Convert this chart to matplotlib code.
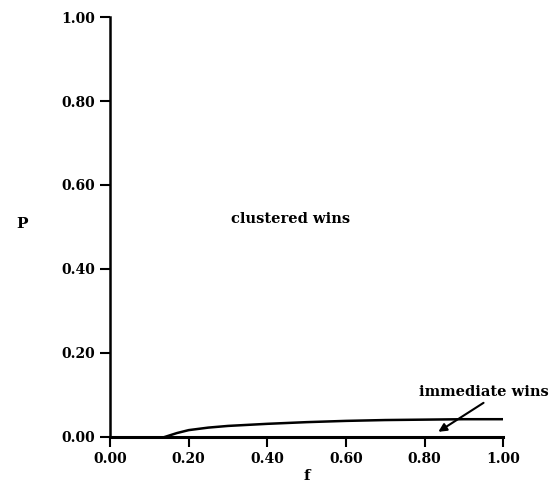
import matplotlib.pyplot as plt
import numpy as np

# boundary between "clustered wins" and "immediate wins"
f_boundary = [0.14, 0.17, 0.20, 0.25, 0.30, 0.40, 0.50, 0.60, 0.70, 0.80, 0.90, 1.00]
p_boundary = [0.000, 0.009, 0.016, 0.022, 0.026, 0.031, 0.035, 0.038, 0.040, 0.041, 0.042, 0.042]

ticks = [0.0, 0.2, 0.4, 0.6, 0.8, 1.0]
tick_labels = ["0.00", "0.20", "0.40", "0.60", "0.80", "1.00"]

plt.rcParams['font.family'] = ['DejaVu Serif']
plt.rcParams['font.weight'] = 'bold'

fig = plt.figure(figsize=(5.56, 4.87), dpi=100)
ax = fig.add_axes([0.198, 0.103, 0.707, 0.862])

ax.plot(f_boundary, p_boundary, color="black", lw=1.8)
ax.plot([0, 1], [0, 0], color="black", lw=2.2, clip_on=False)

ax.set_xlim(0, 1)
ax.set_ylim(0, 1)
ax.spines['top'].set_visible(False)
ax.spines['right'].set_visible(False)
ax.spines['left'].set_linewidth(1.8)
ax.spines['bottom'].set_linewidth(1.8)

ax.set_xticks(ticks)
ax.set_xticklabels(tick_labels, fontsize=10, fontweight='bold')
ax.set_yticks(ticks)
ax.set_yticklabels(tick_labels, fontsize=10, fontweight='bold')
ax.tick_params(axis='both', direction='out', length=7, width=1.5, pad=4)

ax.set_xlabel("f", fontsize=11, fontweight='bold', labelpad=2)
ax.set_ylabel("P", fontsize=11, fontweight='bold', rotation=0)
ax.yaxis.set_label_coords(-0.225, 0.49)

ax.text(0.458, 0.52, "clustered wins", fontsize=10.5, fontweight='bold',
        ha='center', va='center')
ax.text(0.95, 0.107, "immediate wins", fontsize=10.5, fontweight='bold',
        ha='center', va='center', clip_on=False)
ax.annotate("", xy=(0.835, 0.012), xytext=(0.95, 0.081),
            annotation_clip=False,
            arrowprops=dict(arrowstyle='-|>', color='black', lw=1.5,
                            shrinkA=0, shrinkB=0, mutation_scale=12))

fig.savefig("out.png", dpi=100)
